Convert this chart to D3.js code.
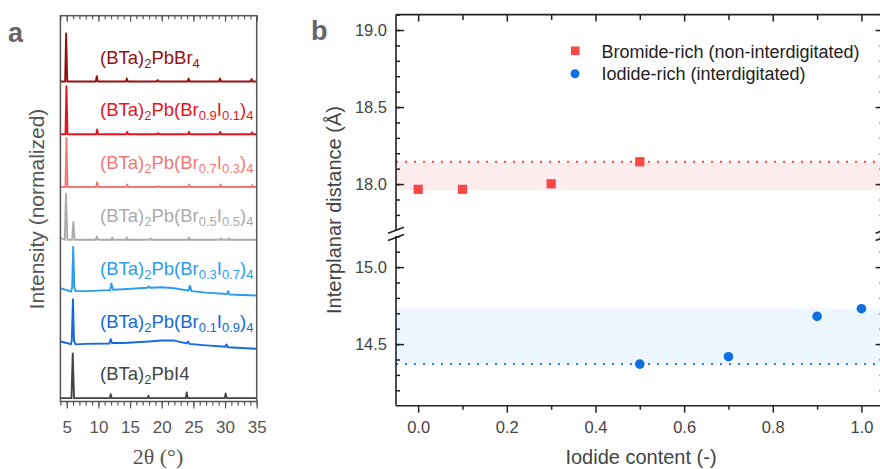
<!DOCTYPE html>
<html>
<head>
<meta charset="utf-8">
<script src="https://cdn.jsdelivr.net/npm/d3@7"></script>
<style>
  body { margin: 0; background: #fff; }
  svg { display: block; font-family: Arial, "Liberation Sans", sans-serif; }
</style>
</head>
<body>
<svg id="chart" width="880" height="469"></svg>
<script>
// ---------- panel a : XRD patterns, [2theta (deg), normalized intensity] ----------
const xrd_PbI4 = [[4,0],[5.75,0],[5.95,0.93],[6.15,0],[11.8,0],[11.95,0.08],[12.1,0],[17.75,0],[17.9,0.05],[18.05,0],
    [23.8,0],[23.95,0.12],[24.1,0],[29.95,0],[30.1,0.1],[30.25,0],[35,0]]
const xrd_Br01I09 = [[4,0.08],[5,0.05],[5.65,0.02],[5.8,0.1],[5.98,0.96],[6.15,0.1],[6.4,0.02],[8,0.03],[11.75,0.04],
    [11.95,0.13],[12.15,0.05],[14,0.05],[18,0.08],[20,0.1],[22,0.1],[23.9,0.04],[24.15,0.08],[24.4,0.03],[27,0],
    [30.05,-0.03],[30.25,0.02],[30.45,-0.04],[35,-0.07]]
const xrd_Br03I07 = [[4,0.09],[5,0.05],[5.7,0.02],[5.85,0.1],[6.02,0.95],[6.2,0.1],[6.4,0.03],[8,0.03],[11.85,0.05],
    [12.05,0.19],[12.3,0.06],[14,0.07],[17.7,0.1],[17.95,0.13],[18.2,0.1],[20,0.11],[22,0.09],[24.2,0.04],[24.45,0.14],
    [24.7,0.03],[27,0],[30.3,-0.03],[30.5,0.03],[30.7,-0.04],[35,-0.06]]
const xrd_Br05I05 = [[4,0.04],[4.7,0],[4.88,0.96],[5.1,0],[5.85,0],[6.05,0.37],[6.25,0],[9.6,0],[9.75,0.07],[9.9,0],
    [12.05,0],[12.2,0.05],[12.35,0],[14.35,0],[14.5,0.05],[14.65,0],[18.1,0],[18.25,0.03],[18.4,0],[24.2,0],
    [24.35,0.05],[24.5,0],[29.2,0],[29.35,0.03],[29.5,0],[30.45,0],[30.6,0.03],[30.75,0],[35,0]]
const xrd_Br07I03 = [[4,0],[4.8,0],[4.95,1.02],[5.12,0],[9.65,0],[9.8,0.1],[9.95,0],[14.4,0],[14.55,0.05],[14.7,0],
    [19.3,0],[19.45,0.02],[19.6,0],[24.2,0],[24.35,0.05],[24.5,0],[29.15,0],[29.3,0.05],[29.45,0],[34.15,0],
    [34.3,0.04],[34.45,0],[35,0]]
const xrd_Br09I01 = [[4,0],[4.8,0],[4.95,1.0],[5.12,0],[9.65,0],[9.8,0.1],[9.95,0],[14.4,0],[14.55,0.05],[14.7,0],
    [19.3,0],[19.45,0.02],[19.6,0],[24.15,0],[24.3,0.05],[24.45,0],[29.1,0],[29.25,0.05],[29.4,0],[34.1,0],
    [34.25,0.04],[34.4,0],[35,0]]
const xrd_PbBr4 = [[4,0],[4.75,0],[4.9,1.0],[5.08,0],[9.6,0],[9.75,0.11],[9.9,0],[14.35,0],[14.5,0.06],[14.65,0],
    [19.2,0],[19.35,0.03],[19.5,0],[24.1,0],[24.25,0.06],[24.4,0],[29.05,0],[29.2,0.06],[29.35,0],[34.05,0],
    [34.2,0.05],[34.35,0],[35,0]]

// bottom -> top
const xrd_patterns = [xrd_PbI4, xrd_Br01I09, xrd_Br03I07, xrd_Br05I05, xrd_Br07I03, xrd_Br09I01, xrd_PbBr4]
// [text, is_subscript]
const pattern_labels = [
    [['(BTa)', 0], ['2', 1], ['PbI4', 0]],
    [['(BTa)', 0], ['2', 1], ['Pb(Br', 0], ['0.1', 1], ['I', 0], ['0.9', 1], [')', 0], ['4', 1]],
    [['(BTa)', 0], ['2', 1], ['Pb(Br', 0], ['0.3', 1], ['I', 0], ['0.7', 1], [')', 0], ['4', 1]],
    [['(BTa)', 0], ['2', 1], ['Pb(Br', 0], ['0.5', 1], ['I', 0], ['0.5', 1], [')', 0], ['4', 1]],
    [['(BTa)', 0], ['2', 1], ['Pb(Br', 0], ['0.7', 1], ['I', 0], ['0.3', 1], [')', 0], ['4', 1]],
    [['(BTa)', 0], ['2', 1], ['Pb(Br', 0], ['0.9', 1], ['I', 0], ['0.1', 1], [')', 0], ['4', 1]],
    [['(BTa)', 0], ['2', 1], ['PbBr', 0], ['4', 1]],
]
const two_theta_ticks = [5, 10, 15, 20, 25, 30, 35]

// ---------- panel b : interplanar distance ----------
const iodide_bromide_rich = [0, 0.1, 0.3, 0.5]
const distance_bromide_rich = [17.966, 17.966, 18.002, 18.145]
const iodide_iodide_rich = [0.5, 0.7, 0.9, 1.0]
const distance_iodide_rich = [14.37, 14.418, 14.68, 14.73]
const legend_labels = ['Bromide-rich (non-interdigitated)', 'Iodide-rich (interdigitated)']
const iodide_ticks = [0, 0.2, 0.4, 0.6, 0.8, 1.0]
const distance_ticks_upper = [18.0, 18.5, 19.0]
const distance_ticks_lower = [14.5, 15.0]

// styles
const pattern_colors = ['#444444', '#1469e0', '#2c9bf0', '#ababab', '#f47878', '#e8141c', '#960f0f']
const red = '#fb4646', blue = '#0f6fe3'

const svg = d3.select('#chart')
svg.append('rect').attr('width', 880).attr('height', 469).attr('fill', 'white')

// =================== panel a ===================
const xA = d3.scaleLinear().domain([4, 35]).range([60.4, 256.7])
const yA = d3.scaleLinear().domain([-0.07, 7.97]).range([401.5, 15.7])
const stack_step = 1.1

let panel_a = svg.append('g').attr('class', 'panel-a')

const line_a = d3.line().x(d => xA(d[0])).y(d => yA(d[1]))
xrd_patterns.forEach((pattern, i) => {
    panel_a.append('path')
        .datum(pattern.map(d => [d[0], d[1] + i * stack_step]))
        .attr('d', line_a)
        .attr('fill', 'none')
        .attr('stroke', pattern_colors[i])
        .attr('stroke-width', 1.9)
        .attr('stroke-linejoin', 'round')

    // label with subscripts
    let label = panel_a.append('text')
        .attr('x', 100)
        .attr('y', yA(i * stack_step + 0.37))
        .attr('fill', pattern_colors[i])
        .attr('font-size', 18.5)
    let shifted = false
    pattern_labels[i].forEach(part => {
        let dy = 0
        if (part[1] && !shifted) { dy = 4; shifted = true }
        else if (!part[1] && shifted) { dy = -4; shifted = false }
        label.append('tspan')
            .attr('dy', dy)
            .attr('font-size', part[1] ? 13 : 18.5)
            .text(part[0])
    })
})

// frame
panel_a.append('rect')
    .attr('x', xA.range()[0]).attr('y', yA.range()[1])
    .attr('width', xA.range()[1] - xA.range()[0])
    .attr('height', yA.range()[0] - yA.range()[1])
    .attr('fill', 'none').attr('stroke', '#555').attr('stroke-width', 1.5)

const minor_a = d3.range(4, 36)
let ax_a_bottom = panel_a.append('g').attr('transform', `translate(0,${yA.range()[0]})`)
    .call(d3.axisBottom(xA).tickValues(minor_a).tickSize(4).tickFormat(''))
ax_a_bottom.append('g')
    .call(d3.axisBottom(xA).tickValues(two_theta_ticks).tickSize(7).tickPadding(12))
let ax_a_top = panel_a.append('g').attr('transform', `translate(0,${yA.range()[1]})`)
    .call(d3.axisTop(xA).tickValues(minor_a).tickSize(-3.5).tickFormat(''))
ax_a_top.append('g')
    .call(d3.axisTop(xA).tickValues(two_theta_ticks).tickSize(-6).tickFormat(''))
panel_a.selectAll('.domain').remove()
panel_a.selectAll('.tick line').attr('stroke', '#555').attr('stroke-width', 1.2)
panel_a.selectAll('.tick text').attr('font-size', 17).attr('fill', '#555')
    .attr('font-family', 'Arial, "Liberation Sans", sans-serif')

panel_a.append('text')
    .attr('x', 158).attr('y', 464)
    .attr('text-anchor', 'middle')
    .attr('font-family', '"Liberation Serif", "Times New Roman", serif')
    .attr('font-size', 22).attr('fill', '#555')
    .text('2θ (°)')
panel_a.append('text')
    .attr('transform', 'translate(44,209) rotate(-90)')
    .attr('text-anchor', 'middle')
    .attr('font-size', 21).attr('fill', '#555')
    .text('Intensity (normalized)')
panel_a.append('text')
    .attr('x', 8).attr('y', 42)
    .attr('font-size', 27).attr('font-weight', 'bold').attr('fill', '#666')
    .text('a')

// =================== panel b ===================
const xB = d3.scaleLinear().domain([-0.05, 1.05]).range([396, 883.6])
const yUp = d3.scaleLinear().domain([17.7, 19.1]).range([230.3, 14.6])
const yLow = d3.scaleLinear().domain([14.1, 15.2]).range([405.7, 236.3])
const axis_color = '#222'

let panel_b = svg.append('g').attr('class', 'panel-b')

// shaded ranges
const band_br = d3.extent(distance_bromide_rich), band_i = d3.extent(distance_iodide_rich)
panel_b.append('rect')
    .attr('x', xB.range()[0]).attr('width', xB.range()[1] - xB.range()[0])
    .attr('y', yUp(band_br[1])).attr('height', yUp(band_br[0] - 0.006) - yUp(band_br[1]))
    .attr('fill', '#fdeced')
panel_b.append('rect')
    .attr('x', xB.range()[0]).attr('width', xB.range()[1] - xB.range()[0])
    .attr('y', yLow(band_i[1])).attr('height', yLow(band_i[0]) - yLow(band_i[1]))
    .attr('fill', '#ebf6fe')

// dotted lines at the x = 0.5 compositions
panel_b.append('line')
    .attr('x1', xB.range()[0]).attr('x2', xB.range()[1])
    .attr('y1', yUp(distance_bromide_rich[3])).attr('y2', yUp(distance_bromide_rich[3]))
    .attr('stroke', red).attr('stroke-width', 1.8).attr('stroke-dasharray', '2,7')
panel_b.append('line')
    .attr('x1', xB.range()[0]).attr('x2', xB.range()[1])
    .attr('y1', yLow(distance_iodide_rich[0])).attr('y2', yLow(distance_iodide_rich[0]))
    .attr('stroke', blue).attr('stroke-width', 1.8).attr('stroke-dasharray', '2,7')

// axes
const y_left = xB.range()[0], y_right = xB.range()[1]
const minor_up = d3.range(17.8, 19.15, 0.1), minor_low = d3.range(14.2, 15.25, 0.1)
function drawYAxis(scale, major, minor, side) {
    const axisFn = side === 'left' ? d3.axisLeft : d3.axisRight
    let g = panel_b.append('g').attr('transform', `translate(${side === 'left' ? y_left : y_right},0)`)
    g.append('g').call(axisFn(scale).tickValues(minor).tickSize(-4).tickFormat(''))
    g.append('g').call(axisFn(scale).tickValues(major).tickSize(-8).tickPadding(9)
        .tickFormat(side === 'left' ? d3.format('.1f') : ''))
    g.append('line').attr('y1', scale.range()[0]).attr('y2', scale.range()[1])
        .attr('stroke', axis_color).attr('stroke-width', 1.6)
    return g
}
drawYAxis(yUp, distance_ticks_upper, minor_up, 'left')
drawYAxis(yLow, distance_ticks_lower, minor_low, 'left')
drawYAxis(yUp, distance_ticks_upper, minor_up, 'right')
drawYAxis(yLow, distance_ticks_lower, minor_low, 'right')

const minor_x = [0.1, 0.3, 0.5, 0.7, 0.9]
let ax_b_bottom = panel_b.append('g').attr('transform', `translate(0,${yLow.range()[0]})`)
ax_b_bottom.append('g').call(d3.axisBottom(xB).tickValues(minor_x).tickSize(4).tickFormat(''))
ax_b_bottom.append('g').call(d3.axisBottom(xB).tickValues(iodide_ticks).tickSize(7).tickPadding(9)
    .tickFormat(d3.format('.1f')))
let ax_b_top = panel_b.append('g').attr('transform', `translate(0,${yUp.range()[1]})`)
ax_b_top.append('g').call(d3.axisTop(xB).tickValues(minor_x).tickSize(-5.5).tickFormat(''))
ax_b_top.append('g').call(d3.axisTop(xB).tickValues(iodide_ticks).tickSize(-7).tickFormat(''))

panel_b.selectAll('.domain').remove()
panel_b.selectAll('.tick line').attr('stroke', axis_color).attr('stroke-width', 1.5)
panel_b.selectAll('.tick text').attr('font-size', 16.5).attr('fill', '#444')
    .attr('font-family', 'Arial, "Liberation Sans", sans-serif')

// top / bottom frame lines
panel_b.append('line').attr('x1', y_left).attr('x2', y_right)
    .attr('y1', yUp.range()[1]).attr('y2', yUp.range()[1])
    .attr('stroke', axis_color).attr('stroke-width', 1.6)
panel_b.append('line').attr('x1', y_left).attr('x2', y_right)
    .attr('y1', yLow.range()[0]).attr('y2', yLow.range()[0])
    .attr('stroke', axis_color).attr('stroke-width', 1.6)

// axis break marks
;[y_left, y_right].forEach(x => {
    ;[yUp.range()[0], yLow.range()[1] + 1.2].forEach(y => {
        panel_b.append('line')
            .attr('x1', x - 8).attr('y1', y + 3)
            .attr('x2', x + 8).attr('y2', y - 3)
            .attr('stroke', axis_color).attr('stroke-width', 1.5)
    })
})

// data points
panel_b.selectAll('.pt-br')
    .data(iodide_bromide_rich.map((d, i) => [d, distance_bromide_rich[i]]))
    .join('rect')
    .attr('x', d => xB(d[0]) - 4.6).attr('y', d => yUp(d[1]) - 4.6)
    .attr('width', 9.2).attr('height', 9.2)
    .attr('fill', red)
panel_b.selectAll('.pt-i')
    .data(iodide_iodide_rich.map((d, i) => [d, distance_iodide_rich[i]]))
    .join('circle')
    .attr('cx', d => xB(d[0])).attr('cy', d => yLow(d[1]))
    .attr('r', 4.8)
    .attr('fill', blue)

// legend
let legend = panel_b.append('g')
legend.append('rect').attr('x', 571).attr('y', 46.5).attr('width', 8.5).attr('height', 8.5).attr('fill', red)
legend.append('circle').attr('cx', 575).attr('cy', 73.7).attr('r', 4.5).attr('fill', blue)
legend.selectAll('.legend-text')
    .data(legend_labels)
    .join('text')
    .attr('x', 601.5)
    .attr('y', (d, i) => 57.5 + i * 22.3)
    .attr('font-size', 18).attr('fill', '#222')
    .text(d => d)

// titles
panel_b.append('text')
    .attr('x', 641).attr('y', 464)
    .attr('text-anchor', 'middle')
    .attr('font-size', 20).attr('fill', '#444')
    .text('Iodide content (-)')
panel_b.append('text')
    .attr('transform', 'translate(341,210) rotate(-90)')
    .attr('text-anchor', 'middle')
    .attr('font-size', 20).attr('fill', '#444')
    .text('Interplanar distance (Å)')
panel_b.append('text')
    .attr('x', 311).attr('y', 40)
    .attr('font-size', 27).attr('font-weight', 'bold').attr('fill', '#666')
    .text('b')
</script>
</body>
</html>
